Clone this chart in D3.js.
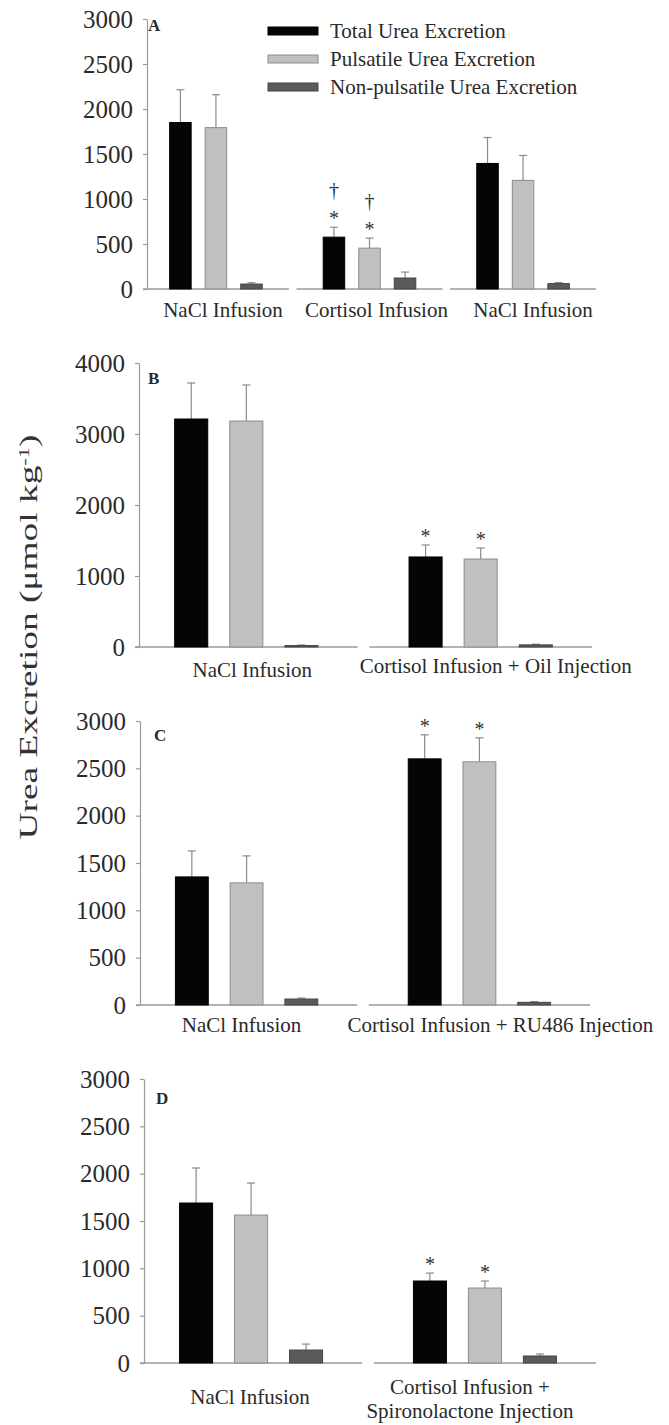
<!DOCTYPE html>
<html>
<head>
<meta charset="utf-8">
<script src="https://cdn.jsdelivr.net/npm/d3@7"></script>
<style>
  html, body { margin: 0; padding: 0; background: #fff; }
  svg { display: block; }
  svg text { font-family: "Liberation Serif", "Times New Roman", serif; }
</style>
</head>
<body>
<script>
// ---------------- DATA ----------------
const seriesNames = ["Total Urea Excretion", "Pulsatile Urea Excretion", "Non-pulsatile Urea Excretion"];

// Panel A
const aGroups = ["NaCl Infusion", "Cortisol Infusion", "NaCl Infusion"];
const aTotal = [1850, 576, 1395];
const aTotalSem = [364, 110, 288];
const aPuls = [1793, 454, 1207];
const aPulsSem = [366, 111, 277];
const aNon = [55, 122, 60];
const aNonSem = [15, 66, 12];
const aTotalSig = ["", "*†", ""];
const aPulsSig = ["", "*†", ""];
const aTicks = [0, 500, 1000, 1500, 2000, 2500, 3000];

// Panel B
const bGroups = [["NaCl Infusion"], ["Cortisol Infusion + Oil Injection"]];
const bTotal = [3211, 1268];
const bTotalSem = [507, 169];
const bPuls = [3183, 1239];
const bPulsSem = [507, 155];
const bNon = [20, 30];
const bNonSem = [8, 10];
const bTotalSig = ["", "*"];
const bPulsSig = ["", "*"];
const bTicks = [0, 1000, 2000, 3000, 4000];

// Panel C
const cGroups = [["NaCl Infusion"], ["Cortisol Infusion + RU486 Injection"]];
const cTotal = [1353, 2600];
const cTotalSem = [275, 254];
const cPuls = [1290, 2569];
const cPulsSem = [285, 253];
const cNon = [63, 28];
const cNonSem = [11, 8];
const cTotalSig = ["", "*"];
const cPulsSig = ["", "*"];
const cTicks = [0, 500, 1000, 1500, 2000, 2500, 3000];

// Panel D
const dGroups = [["NaCl Infusion"], ["Cortisol Infusion +", "Spironolactone Injection"]];
const dTotal = [1690, 866];
const dTotalSem = [370, 84];
const dPuls = [1563, 792];
const dPulsSem = [338, 74];
const dNon = [137, 74];
const dNonSem = [63, 21];
const dTotalSig = ["", "*"];
const dPulsSig = ["", "*"];
const dTicks = [0, 500, 1000, 1500, 2000, 2500, 3000];

const yTitle = "Urea Excretion (μmol kg";
const yTitleSup = "-1";

// ---------------- STYLE ----------------
const fills = ["#050505", "#c0c0c0", "#5a5a5a"];
const strokes = ["#000000", "#8c8c8c", "#444444"];
const axisColor = "#9a9a9a";
const textColor = "#2a2a2a";
const errColor = "#8a8a8a";
const serif = "'Liberation Serif', 'Times New Roman', serif";

const W = 669, H = 1425;
const svg = d3.select("body").append("svg").attr("width", W).attr("height", H);

function drawPanel(p) {
  const g = svg.append("g");
  const y = d3.scaleLinear().domain([0, d3.max(p.ticks)]).range([p.y0, p.yTop]);
  const gx = d3.scaleBand().domain(d3.range(p.groups.length)).range([p.x0, p.x1]).paddingInner(p.gpad);
  const sx = d3.scaleBand().domain(d3.range(3)).range([0, gx.bandwidth()]).paddingInner(p.pi).paddingOuter(p.po);

  // y axis
  const ax = g.append("g")
    .attr("transform", `translate(${p.axisX},0)`)
    .call(d3.axisLeft(y).tickValues(p.ticks).tickSize(4).tickSizeOuter(0).tickPadding(10).tickFormat(d3.format("d")));
  ax.attr("font-family", null);
  ax.select(".domain").attr("stroke", axisColor).attr("stroke-width", 1.2);
  ax.selectAll(".tick line").attr("stroke", axisColor).attr("stroke-width", 1.2);
  ax.selectAll(".tick text").attr("fill", textColor).attr("font-size", 25)
    .style("font-family", serif);

  // baseline segments
  g.selectAll(".base").data(p.groups).enter().append("line")
    .attr("x1", (d, i) => gx(i)).attr("x2", (d, i) => gx(i) + gx.bandwidth())
    .attr("y1", y(0)).attr("y2", y(0))
    .attr("stroke", axisColor).attr("stroke-width", 1.5);

  const seriesVals = [p.total, p.puls, p.non];
  const seriesSem = [p.totalSem, p.pulsSem, p.nonSem];
  const seriesSig = [p.totalSig, p.pulsSig, null];

  seriesVals.forEach((vals, s) => {
    vals.forEach((v, i) => {
      const bx = gx(i) + sx(s);
      const bw = sx.bandwidth();
      const cx = bx + bw / 2;
      const top = v + seriesSem[s][i];
      // error bar
      g.append("line").attr("x1", cx).attr("x2", cx).attr("y1", y(v)).attr("y2", y(top))
        .attr("stroke", errColor).attr("stroke-width", 1.2);
      g.append("line").attr("x1", cx - 4).attr("x2", cx + 4).attr("y1", y(top)).attr("y2", y(top))
        .attr("stroke", errColor).attr("stroke-width", 1.2);
      // bar
      g.append("rect").attr("x", bx).attr("y", y(v)).attr("width", bw).attr("height", y(0) - y(v))
        .attr("fill", fills[s]).attr("stroke", strokes[s]).attr("stroke-width", 1);
      // significance marks
      const sig = seriesSig[s] ? seriesSig[s][i] : "";
      if (sig.includes("*")) {
        g.append("text").attr("x", cx).attr("y", y(top) - 2).attr("text-anchor", "middle")
          .attr("font-size", 20).attr("fill", "#333").text("*");
      }
      if (sig.includes("†")) {
        g.append("text").attr("x", cx).attr("y", y(top) - 30).attr("text-anchor", "middle")
          .attr("font-size", 20).attr("fill", "#333").text("†");
      }
    });
  });

  // category labels
  p.groups.forEach((lines, i) => {
    const arr = Array.isArray(lines) ? lines : [lines];
    const cx = gx(i) + gx.bandwidth() / 2 + (p.labelDx[i] || 0);
    arr.forEach((ln, k) => {
      g.append("text").attr("x", cx).attr("y", p.labelY[i] + k * p.lineH)
        .attr("text-anchor", "middle").attr("font-size", 21).attr("fill", textColor).text(ln);
    });
  });

  // panel letter
  g.append("text").attr("x", p.letterX).attr("y", p.letterY).attr("font-size", 17)
    .attr("font-weight", "bold").attr("fill", textColor).text(p.letter);
}

drawPanel({
  letter: "A", letterX: 148, letterY: 31,
  groups: aGroups, total: aTotal, totalSem: aTotalSem, puls: aPuls, pulsSem: aPulsSem, non: aNon, nonSem: aNonSem,
  totalSig: aTotalSig, pulsSig: aPulsSig, ticks: aTicks,
  axisX: 147, x0: 143, x1: 596, y0: 289, yTop: 19, gpad: 0.05, pi: 0.395, po: 0.75,
  labelDx: [7, 7, 10], labelY: [317, 317, 317], lineH: 26
});

drawPanel({
  letter: "B", letterX: 148, letterY: 384,
  groups: bGroups, total: bTotal, totalSem: bTotalSem, puls: bPuls, pulsSem: bPulsSem, non: bNon, nonSem: bNonSem,
  totalSig: bTotalSig, pulsSig: bPulsSig, ticks: bTicks,
  axisX: 139, x0: 135, x1: 592, y0: 647, yTop: 363, gpad: 0.05, pi: 0.4, po: 0.72,
  labelDx: [6, 15], labelY: [677, 673], lineH: 26
});

drawPanel({
  letter: "C", letterX: 154, letterY: 741,
  groups: cGroups, total: cTotal, totalSem: cTotalSem, puls: cPuls, pulsSem: cPulsSem, non: cNon, nonSem: cNonSem,
  totalSig: cTotalSig, pulsSig: cPulsSig, ticks: cTicks,
  axisX: 140, x0: 136, x1: 590, y0: 1005, yTop: 721, gpad: 0.05, pi: 0.4, po: 0.72,
  labelDx: [-5, 21], labelY: [1032, 1032], lineH: 26
});

drawPanel({
  letter: "D", letterX: 156, letterY: 1104,
  groups: dGroups, total: dTotal, totalSem: dTotalSem, puls: dPuls, pulsSem: dPulsSem, non: dNon, nonSem: dNonSem,
  totalSig: dTotalSig, pulsSig: dPulsSig, ticks: dTicks,
  axisX: 144, x0: 140, x1: 596, y0: 1363, yTop: 1079, gpad: 0.05, pi: 0.4, po: 0.72,
  labelDx: [-1, -15], labelY: [1404, 1394], lineH: 24
});

// legend
const legend = svg.append("g");
seriesNames.forEach((name, i) => {
  const cy = 31 + i * 28;
  legend.append("rect").attr("x", 268).attr("y", cy - 4).attr("width", 50).attr("height", 8)
    .attr("fill", fills[i]).attr("stroke", strokes[i]).attr("stroke-width", 1);
  legend.append("text").attr("x", 330).attr("y", cy + 7).attr("font-size", 21).attr("fill", textColor).text(name);
});

// y axis title
const t = svg.append("text")
  .attr("transform", "translate(37,637) rotate(-90)")
  .attr("text-anchor", "middle").attr("font-size", 25).attr("fill", "#333")
  .attr("textLength", 405).attr("lengthAdjust", "spacingAndGlyphs");
t.append("tspan").text(yTitle);
t.append("tspan").attr("baseline-shift", "super").attr("font-size", 15).text(yTitleSup);
t.append("tspan").text(")");
</script>
</body>
</html>
